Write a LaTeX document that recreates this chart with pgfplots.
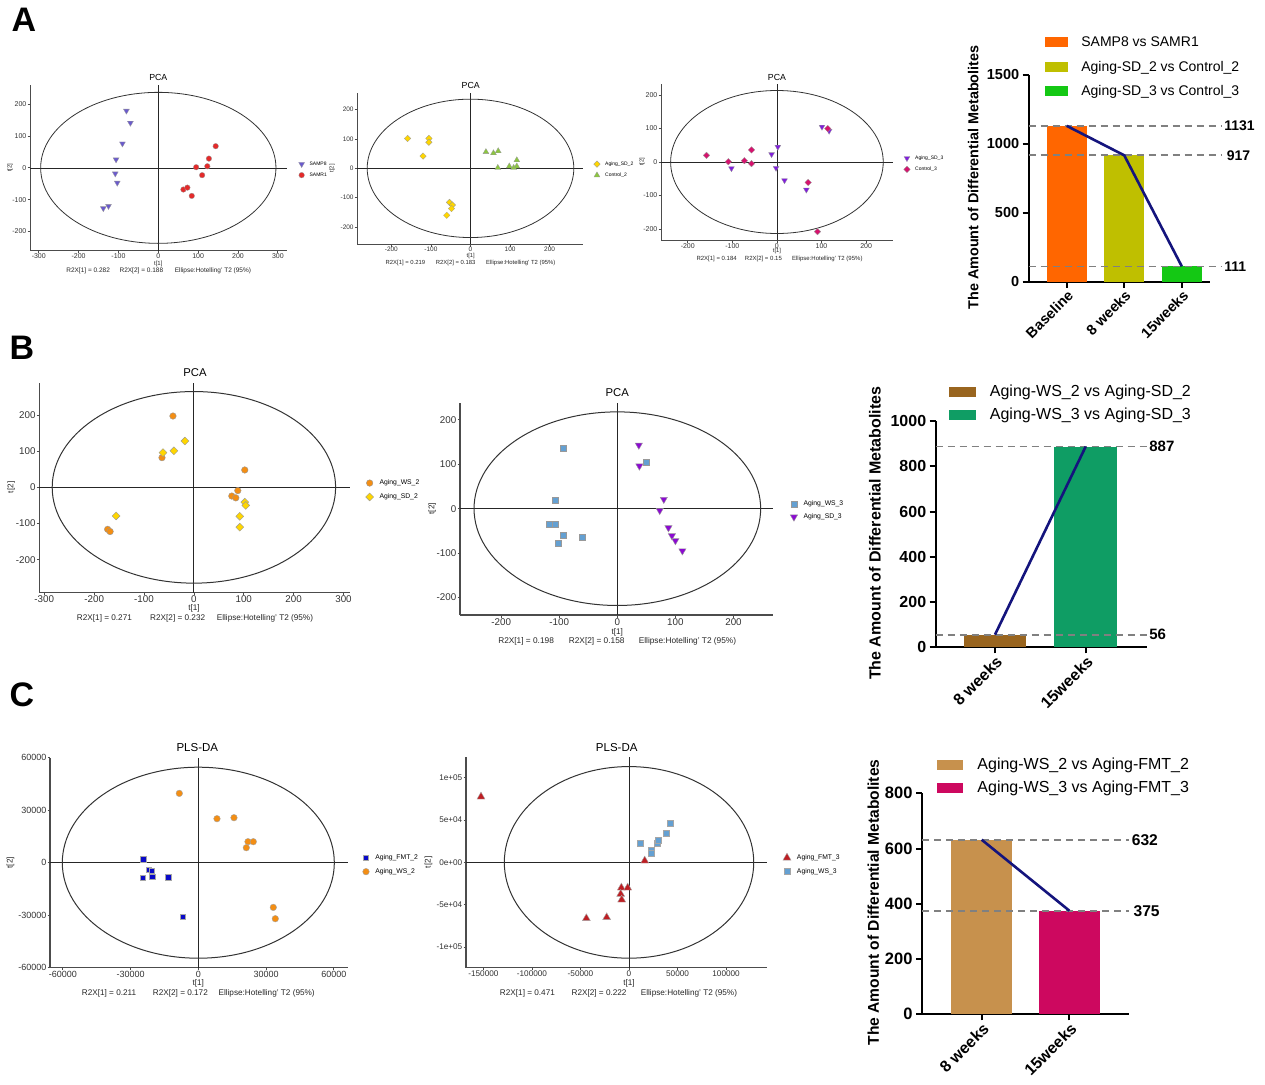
\documentclass[border=0pt]{standalone}
\usepackage{fontspec}
\setmainfont{Liberation Sans}
\usepackage{pgfplots}
\pgfplotsset{compat=1.18}
\newcommand{\fs}[1]{\fontsize{#1}{#1}\selectfont}
\definecolor{cSAMP8}{RGB}{106,90,205}
\definecolor{cSAMR1}{RGB}{228,42,42}
\definecolor{cYel}{RGB}{255,214,0}
\definecolor{cCtl2}{RGB}{140,198,63}
\definecolor{cViol}{RGB}{128,30,220}
\definecolor{cCtl3}{RGB}{214,18,110}
\definecolor{cOr}{RGB}{243,142,20}
\definecolor{cLB}{RGB}{100,160,210}
\definecolor{cPur}{RGB}{140,10,210}
\definecolor{cFMT2}{RGB}{10,10,200}
\definecolor{cFMT3}{RGB}{190,30,35}
\definecolor{cB1}{RGB}{255,102,0}
\definecolor{cB2}{RGB}{191,191,0}
\definecolor{cB3}{RGB}{20,200,20}
\definecolor{cB4}{RGB}{153,101,31}
\definecolor{cB5}{RGB}{15,157,100}
\definecolor{cB6}{RGB}{199,145,77}
\definecolor{cB7}{RGB}{205,8,95}
\definecolor{cNavy}{RGB}{20,20,125}
\tikzset{
  zl/.style={draw=black!85, line width=0.7pt},
  ell/.style={draw=black!80, line width=0.8pt},
  dl/.style={draw=black!50, line width=1.8pt, dash pattern=on 7pt off 5pt},
  vl/.style={anchor=west, inner sep=0pt, font=\bfseries\fs{15}},
}
\pgfplotsset{
  scat/.style={scale only axis, anchor=south west,
    axis x line*=bottom, axis y line*=left,
    axis line style={draw=black!70, line width=1pt},
    tick align=outside, major tick length=2.5pt,
    tick style={draw=black!70, line width=0.8pt},
    clip=false, scaled ticks=false,
    /pgf/number format/assume math mode=true,
    /pgf/number format/1000 sep={},
    xticklabel style={text=black!80, inner sep=0.6pt}, yticklabel style={text=black!80, inner sep=1pt},
    legend cell align=left,
    legend image code/.code={\draw[mark repeat=2,mark phase=2,##1] plot coordinates {(0pt,0pt) (3pt,0pt) (6pt,0pt)};},
    legend style={draw=none, fill=none, at={(1,0.5)}, anchor=west, inner sep=0pt, outer sep=0pt},
  },
  fontA/.style={ticklabel style={font=\fs{7}}, legend style={font=\fs{5}, row sep=2pt, column sep=3pt}},
  fontB/.style={ticklabel style={font=\fs{9.8}}, legend style={font=\fs{6.8}, row sep=3.5pt, column sep=4pt}},
  bars/.style={scale only axis, anchor=south west,
    axis x line*=bottom, axis y line*=left,
    axis line style={black, line width=2pt},
    tick align=outside, major tick length=6pt,
    tick style={black, line width=2pt},
    clip=false, ymin=0,
    /pgf/number format/assume math mode=true,
    /pgf/number format/1000 sep={},
    xticklabel style={rotate=45, anchor=north east, font=\bfseries\fs{15}, inner sep=1pt},
    yticklabel style={font=\bfseries\fs{15}},
    legend cell align=left,
    legend style={draw=none, fill=none, inner sep=0pt, outer sep=0pt, column sep=11pt, anchor=north west},
  },
}
\begin{document}
\begin{tikzpicture}
\useasboundingbox (0pt,0pt) rectangle (1265pt,-1084pt);

% ---------------- Panel letters
\node[font=\bfseries\fs{34}] at (24pt,-20pt) {A};
\node[font=\bfseries\fs{34}] at (22pt,-348pt) {B};
\node[font=\bfseries\fs{34}] at (22pt,-695pt) {C};

% ---------------- A1
\begin{axis}[scat, fontA, at={(30pt,-250.7pt)}, width=257pt, height=165.7pt,
  xmin=-322, xmax=323, ymin=-260, ymax=260,
  xtick={-300,-200,...,300}, ytick={-200,-100,...,200},
  legend style={xshift=11.7pt, yshift=-1.8pt}]
\draw[zl] ({rel axis cs:0,0}|-{axis cs:0,0}) -- ({rel axis cs:1,0}|-{axis cs:0,0});
\draw[zl] ({axis cs:0,0}|-{rel axis cs:0,0}) -- ({axis cs:0,0}|-{rel axis cs:0,1});
\draw[ell] (axis cs:0,0) ellipse [x radius=117.65pt, y radius=75.5pt];
\addplot[only marks, mark=triangle*, mark size=3.4pt, mark options={rotate=180, fill=cSAMP8, draw=black!40, line width=0.3pt}]
 coordinates {(-80,179) (-70,141) (-90,76) (-106,26) (-108,-18) (-103,-47) (-125,-120) (-138,-127)};
\addlegendentry{SAMP8}
\addplot[only marks, mark=*, mark size=2.8pt, mark options={fill=cSAMR1, draw=black!40, line width=0.3pt}]
 coordinates {(144,68) (127,29) (123,5) (95,2) (110,-23) (63,-68) (73,-62) (84,-88)};
\addlegendentry{SAMR1}
\end{axis}
\node[font=\fs{8.8}] at (158.3pt,-77pt) {PCA};
\node[font=\fs{6}, text=black!85] at (158.3pt,-263.5pt) {t[1]};
\node[font=\fs{6}, text=black!85, rotate=90] at (10pt,-167.7pt) {t[2]};
\node[font=\fs{6.5}, text=black!85] at (158.7pt,-271.2pt) {R2X[1] = 0.282\hspace{9.7pt}R2X[2] = 0.188\hspace{11.7pt}Ellipse:Hotelling' T2 (95\%)};

% ---------------- A2
\begin{axis}[scat, fontA, at={(357.3pt,-244pt)}, width=226pt, height=151.3pt,
  xmin=-286, xmax=285, ymin=-258, ymax=258,
  xtick={-200,-100,...,200}, ytick={-200,-100,...,200},
  ticklabel style={font=\fs{6.5}},
  legend style={xshift=10.4pt, yshift=-1.3pt}]
\draw[zl] ({rel axis cs:0,0}|-{axis cs:0,0}) -- ({rel axis cs:1,0}|-{axis cs:0,0});
\draw[zl] ({axis cs:0,0}|-{rel axis cs:0,0}) -- ({axis cs:0,0}|-{rel axis cs:0,1});
\draw[ell] (axis cs:0,0) ellipse [x radius=103.3pt, y radius=69.2pt];
\addplot[only marks, mark=square*, mark size=2.3pt, mark options={rotate=45, fill=cYel, draw=black!40, line width=0.3pt}]
 coordinates {(-159,102) (-105,102) (-105,89) (-120,42) (-53,-116) (-46,-125) (-48,-137) (-60,-160)};
\addlegendentry{Aging\_SD\_2}
\addplot[only marks, mark=triangle*, mark size=3.4pt, mark options={fill=cCtl2, draw=black!40, line width=0.3pt}]
 coordinates {(39,56) (58,52) (70,59) (69,2) (98,7) (109,2) (117,28) (117,7)};
\addlegendentry{Control\_2}
\end{axis}
\node[font=\fs{8.8}] at (470.7pt,-85pt) {PCA};
\node[font=\fs{5.8}, text=black!85] at (470.7pt,-256pt) {t[1]};
\node[font=\fs{5.8}, text=black!85, rotate=90] at (332.2pt,-168.3pt) {t[2]};
\node[font=\fs{5.9}, text=black!85] at (470.5pt,-263.2pt) {R2X[1] = 0.219\hspace{10.7pt}R2X[2] = 0.183\hspace{10.7pt}Ellipse:Hotelling' T2 (95\%)};

% ---------------- A3
\begin{axis}[scat, fontA, at={(661pt,-240pt)}, width=232.3pt, height=156pt,
  xmin=-260, xmax=261, ymin=-233, ymax=233,
  xtick={-200,-100,...,200}, ytick={-200,-100,...,200},
  legend style={xshift=10.4pt, yshift=-1.8pt}]
\draw[zl] ({rel axis cs:0,0}|-{axis cs:0,0}) -- ({rel axis cs:1,0}|-{axis cs:0,0});
\draw[zl] ({axis cs:0,0}|-{rel axis cs:0,0}) -- ({axis cs:0,0}|-{rel axis cs:0,1});
\draw[ell] (axis cs:0,0) ellipse [x radius=106.3pt, y radius=71.5pt];
\addplot[only marks, mark=triangle*, mark size=3.4pt, mark options={rotate=180, fill=cViol, draw=black!40, line width=0.3pt}]
 coordinates {(101,105) (117,93) (2,45) (-12,23) (-2,-18) (-102,-19) (17,-55) (66,-83)};
\addlegendentry{Aging\_SD\_3}
\addplot[only marks, mark=square*, mark size=2.3pt, mark options={rotate=45, fill=cCtl3, draw=black!40, line width=0.3pt}]
 coordinates {(114,100) (-158,20) (-109,1) (-73,4) (-57,36) (-57,-5) (70,-61) (91,-208)};
\addlegendentry{Control\_3}
\end{axis}
\node[font=\fs{8.8}] at (777pt,-77.7pt) {PCA};
\node[font=\fs{5.8}, text=black!85] at (777pt,-251pt) {t[1]};
\node[font=\fs{5.8}, text=black!85, rotate=90] at (642.2pt,-161.7pt) {t[2]};
\node[font=\fs{6}, text=black!85] at (779.5pt,-258.8pt) {R2X[1] = 0.184\hspace{8.3pt}R2X[2] = 0.15\hspace{10.3pt}Ellipse:Hotelling' T2 (95\%)};

% ---------------- A4 bars
\begin{axis}[bars, at={(1028.7pt,-281.7pt)}, width=181.3pt, height=206.7pt,
  xmin=-0.66, xmax=2.49, ymax=1500, ytick={0,500,1000,1500},
  xtick={0,1,2}, xticklabels={Baseline,8 weeks,15weeks},
  yticklabel style={font=\bfseries\fs{14.5}}, xticklabel style={font=\bfseries\fs{14.5}},
  legend style={at={(axis description cs:0.09,1.195)}, font=\fs{14}, row sep=9pt}]
\addplot[ybar, bar width=0.696, fill=cB1, draw=none, legend image code/.code={\fill[cB1] (0pt,-5pt) rectangle (23.3pt,5pt);}] coordinates {(0,1131)};
\addlegendentry{SAMP8 vs SAMR1}
\addplot[ybar, bar width=0.696, fill=cB2, draw=none, legend image code/.code={\fill[cB2] (0pt,-5pt) rectangle (23.3pt,5pt);}] coordinates {(1,917)};
\addlegendentry{Aging-SD\_2 vs Control\_2}
\addplot[ybar, bar width=0.696, fill=cB3, draw=none, legend image code/.code={\fill[cB3] (0pt,-5pt) rectangle (23.3pt,5pt);}] coordinates {(2,111)};
\addlegendentry{Aging-SD\_3 vs Control\_3}
\draw[dl] (axis cs:-0.66,1131) -- (axis cs:2.696,1131);
\draw[dl] (axis cs:-0.66,917) -- (axis cs:2.696,917);
\draw[dl] (axis cs:-0.66,111) -- (axis cs:2.696,111);
\node[vl, font=\bfseries\fs{14}] at (axis cs:2.736,1131) {1131};
\node[vl, font=\bfseries\fs{14}] at (axis cs:2.78,917) {917};
\node[vl, font=\bfseries\fs{14}] at (axis cs:2.736,111) {111};
\addplot[sharp plot, draw=cNavy, line width=2.6pt, forget plot] coordinates {(0,1131) (1,917) (2,111)};
\end{axis}
\node[font=\bfseries\fs{14.4}, rotate=90] at (973.3pt,-177.5pt) {The Amount of Differential Metabolites};

% ---------------- B1
\begin{axis}[scat, fontB, at={(39.3pt,-592.7pt)}, width=310.7pt, height=210pt,
  xmin=-310, xmax=313, ymin=-291, ymax=289,
  xtick={-300,-200,...,300}, ytick={-200,-100,...,200},
  axis line style={line width=1.3pt},
  legend style={xshift=15.7pt, yshift=-2.3pt}]
\draw[zl, line width=0.9pt] ({rel axis cs:0,0}|-{axis cs:0,0}) -- ({rel axis cs:1,0}|-{axis cs:0,0});
\draw[zl, line width=0.9pt] ({axis cs:0,0}|-{rel axis cs:0,0}) -- ({axis cs:0,0}|-{rel axis cs:0,1});
\draw[ell, line width=1pt] (axis cs:0,0) ellipse [x radius=141.7pt, y radius=95.8pt];
\addplot[only marks, mark=*, mark size=3.3pt, mark options={fill=cOr, draw=black!40, line width=0.4pt}]
 coordinates {(-42,197) (-64,82) (102,48) (88,-9) (76,-24) (84,-29) (-173,-116) (-168,-122)};
\addlegendentry{Aging\_WS\_2}
\addplot[only marks, mark=square*, mark size=2.8pt, mark options={rotate=45, fill=cYel, draw=black!40, line width=0.4pt}]
 coordinates {(-18,128) (-40,101) (-62,96) (-156,-79) (102,-41) (104,-50) (92,-80) (92,-110)};
\addlegendentry{Aging\_SD\_2}
\end{axis}
\node[font=\fs{11.3}] at (195pt,-372.7pt) {PCA};
\node[font=\fs{8.2}, text=black!85] at (194pt,-608.8pt) {t[1]};
\node[font=\fs{8.2}, text=black!85, rotate=90] at (11.2pt,-487.3pt) {t[2]};
\node[font=\fs{8.2}, text=black!85] at (195pt,-618.2pt) {R2X[1] = 0.271\hspace{18.3pt}R2X[2] = 0.232\hspace{11.7pt}Ellipse:Hotelling' T2 (95\%)};

% ---------------- B2
\begin{axis}[scat, fontB, at={(460pt,-615pt)}, width=313.3pt, height=212.3pt,
  xmin=-271, xmax=268.6, ymin=-239.4, ymax=238.6,
  xtick={-200,-100,...,200}, ytick={-200,-100,...,200},
  axis line style={line width=1.3pt},
  legend style={xshift=17pt, yshift=-1.7pt, row sep=2.5pt}]
\draw[zl, line width=0.9pt] ({rel axis cs:0,0}|-{axis cs:0,0}) -- ({rel axis cs:1,0}|-{axis cs:0,0});
\draw[zl, line width=0.9pt] ({axis cs:0,0}|-{rel axis cs:0,0}) -- ({axis cs:0,0}|-{rel axis cs:0,1});
\draw[ell, line width=1pt] (axis cs:0,0) ellipse [x radius=143.3pt, y radius=96.8pt];
\addplot[only marks, mark=square*, mark size=3pt, mark options={fill=cLB, draw=black!40, line width=0.4pt}]
 coordinates {(-94,137) (49,105) (-107,20) (-117,-36) (-107,-36) (-94,-59) (-102,-78) (-61,-65)};
\addlegendentry{Aging\_WS\_3}
\addplot[only marks, mark=triangle*, mark size=4.2pt, mark options={rotate=180, fill=cPur, draw=black!40, line width=0.4pt}]
 coordinates {(37,143) (38,96) (80,21) (73,-4) (88,-43) (94,-61) (100,-72) (112,-95)};
\addlegendentry{Aging\_SD\_3}
\end{axis}
\node[font=\fs{11.3}] at (617.3pt,-392.7pt) {PCA};
\node[font=\fs{8.2}, text=black!85] at (617.3pt,-632.2pt) {t[1]};
\node[font=\fs{8.2}, text=black!85, rotate=90] at (432.2pt,-508.7pt) {t[2]};
\node[font=\fs{8.3}, text=black!85] at (617.2pt,-641.2pt) {R2X[1] = 0.198\hspace{15pt}R2X[2] = 0.158\hspace{14.3pt}Ellipse:Hotelling' T2 (95\%)};

% ---------------- B3 bars
\begin{axis}[bars, at={(935.7pt,-647.3pt)}, width=211pt, height=226.3pt,
  xmin=-0.654, xmax=1.673, ymax=1000, ytick={0,200,...,1000},
  xtick={0,1}, xticklabels={8 weeks,15weeks},
  yticklabel style={font=\bfseries\fs{16}}, xticklabel style={font=\bfseries\fs{16}},
  legend style={at={(axis description cs:0.064,1.168)}, font=\fs{16}, row sep=6pt, column sep=12pt}]
\addplot[ybar, bar width=0.676, fill=cB4, draw=none, legend image code/.code={\fill[cB4] (0pt,-5pt) rectangle (26.7pt,5pt);}] coordinates {(0,56)};
\addlegendentry{Aging-WS\_2 vs Aging-SD\_2}
\addplot[ybar, bar width=0.69, fill=cB5, draw=none, legend image code/.code={\fill[cB5] (0pt,-5pt) rectangle (26.7pt,5pt);}] coordinates {(1,887)};
\addlegendentry{Aging-WS\_3 vs Aging-SD\_3}
\draw[dl] (axis cs:-0.654,887) -- (axis cs:1.673,887);
\draw[dl] (axis cs:-0.654,56) -- (axis cs:1.673,56);
\node[vl] at (axis cs:1.70,887) {887};
\node[vl] at (axis cs:1.70,56) {56};
\addplot[sharp plot, draw=cNavy, line width=2.6pt, forget plot] coordinates {(0,56) (1,887)};
\end{axis}
\node[font=\bfseries\fs{16}, rotate=90] at (875pt,-533.3pt) {The Amount of Differential Metabolites};

% ---------------- C1
\begin{axis}[scat, fontB, at={(50pt,-967.7pt)}, width=298.3pt, height=210pt,
  xmin=-65683, xmax=66420, ymin=-60000, ymax=60000,
  xtick={-60000,-30000,0,30000,60000}, ytick={-60000,-30000,0,30000,60000},
  xticklabels={-60000,-30000,0,30000,60000}, yticklabels={-60000,-30000,0,30000,60000},
  ticklabel style={font=\fs{9}},
  axis line style={line width=1.3pt},
  legend style={xshift=14.4pt, yshift=-2pt}]
\draw[zl, line width=0.9pt] ({rel axis cs:0,0}|-{axis cs:0,0}) -- ({rel axis cs:1,0}|-{axis cs:0,0});
\draw[zl, line width=0.9pt] ({axis cs:0,0}|-{rel axis cs:0,0}) -- ({axis cs:0,0}|-{rel axis cs:0,1});
\draw[ell, line width=1pt] (axis cs:0,0) ellipse [x radius=136pt, y radius=95.5pt];
\addplot[only marks, mark=square*, mark size=2.7pt, mark options={fill=cFMT2, draw=black!35, line width=0.4pt}]
 coordinates {(-24354,2095) (-21845,-4000) (-20517,-4571) (-20369,-8000) (-24649,-8571) (-13284,-8190) (-6790,-30857)};
\addlegendentry{Aging\_FMT\_2}
\addplot[only marks, mark=*, mark size=3.3pt, mark options={fill=cOr, draw=black!35, line width=0.4pt}]
 coordinates {(-8413,39619) (8266,25143) (15793,25714) (21993,12000) (24354,12000) (21255,8571) (33210,-25524) (34096,-32000)};
\addlegendentry{Aging\_WS\_2}
\end{axis}
\node[font=\fs{11.5}] at (197.3pt,-747.7pt) {PLS-DA};
\node[font=\fs{8.2}, text=black!85] at (198.3pt,-983.8pt) {t[1]};
\node[font=\fs{8.2}, text=black!85, rotate=90] at (10.5pt,-862.7pt) {t[2]};
\node[font=\fs{8.2}, text=black!85] at (198.3pt,-993.2pt) {R2X[1] = 0.211\hspace{16.7pt}R2X[2] = 0.172\hspace{10.7pt}Ellipse:Hotelling' T2 (95\%)};

% ---------------- C2
\begin{axis}[scat, fontB, at={(466pt,-967.7pt)}, width=300.7pt, height=211pt,
  xmin=-167926, xmax=141827, ymin=-124409, ymax=124803,
  xtick={-150000,-100000,-50000,0,50000,100000}, ytick={-100000,-50000,0,50000,100000},
  xticklabels={-150000,-100000,-50000,0,50000,100000}, yticklabels={-1e+05,-5e+04,0e+00,5e+04,1e+05},
  ticklabel style={font=\fs{8.2}},
  axis line style={line width=1.3pt},
  legend style={xshift=16.3pt, yshift=-2.5pt}]
\draw[zl, line width=0.9pt] ({rel axis cs:0,0}|-{axis cs:0,0}) -- ({rel axis cs:1,0}|-{axis cs:0,0});
\draw[zl, line width=0.9pt] ({axis cs:0,0}|-{rel axis cs:0,0}) -- ({axis cs:0,0}|-{rel axis cs:0,1});
\draw[ell, line width=1pt] (axis cs:0,0) ellipse [x radius=124.7pt, y radius=95.8pt];
\addplot[only marks, mark=triangle*, mark size=4.6pt, mark options={fill=cFMT3, draw=black!35, line width=0.4pt}]
 coordinates {(-152473,77559) (16140,1968) (-7898,-29921) (-1374,-29921) (-8585,-37402) (-7555,-44094) (-43956,-66142) (-23008,-64961)};
\addlegendentry{Aging\_FMT\_3}
\addplot[only marks, mark=square*, mark size=3pt, mark options={fill=cLB, draw=black!35, line width=0.4pt}]
 coordinates {(11332,22441) (23008,14567) (22665,10630) (29190,22441) (30563,26378) (38118,34252) (42582,46850)};
\addlegendentry{Aging\_WS\_3}
\end{axis}
\node[font=\fs{11.5}] at (616.7pt,-747.7pt) {PLS-DA};
\node[font=\fs{8.2}, text=black!85] at (629pt,-983.8pt) {t[1]};
\node[font=\fs{8.2}, text=black!85, rotate=90] at (428.5pt,-862.3pt) {t[2]};
\node[font=\fs{8.2}, text=black!85] at (618.5pt,-993.2pt) {R2X[1] = 0.471\hspace{16.7pt}R2X[2] = 0.222\hspace{14.3pt}Ellipse:Hotelling' T2 (95\%)};

% ---------------- C3 bars
\begin{axis}[bars, at={(922pt,-1014.3pt)}, width=207.3pt, height=221pt,
  xmin=-0.68, xmax=1.683, ymax=800, ytick={0,200,...,800},
  xtick={0,1}, xticklabels={8 weeks,15weeks},
  yticklabel style={font=\bfseries\fs{16.5}}, xticklabel style={font=\bfseries\fs{16}},
  legend style={at={(axis description cs:0.071,1.169)}, font=\fs{16}, row sep=6pt, column sep=12pt}]
\addplot[ybar, bar width=0.692, fill=cB6, draw=none, legend image code/.code={\fill[cB6] (0pt,-5pt) rectangle (26.7pt,5pt);}] coordinates {(0,632)};
\addlegendentry{Aging-WS\_2 vs Aging-FMT\_2}
\addplot[ybar, bar width=0.70, fill=cB7, draw=none, legend image code/.code={\fill[cB7] (0pt,-5pt) rectangle (26.7pt,5pt);}] coordinates {(1,375)};
\addlegendentry{Aging-WS\_3 vs Aging-FMT\_3}
\draw[dl] (axis cs:-0.68,632) -- (axis cs:1.683,632);
\draw[dl] (axis cs:-0.68,375) -- (axis cs:1.683,375);
\node[vl, font=\bfseries\fs{15.6}] at (axis cs:1.71,632) {632};
\node[vl, font=\bfseries\fs{15.6}] at (axis cs:1.73,375) {375};
\addplot[sharp plot, draw=cNavy, line width=2.6pt, forget plot] coordinates {(0,632) (1,375)};
\end{axis}
\node[font=\bfseries\fs{15.6}, rotate=90] at (873.3pt,-902.5pt) {The Amount of Differential Metabolites};

\end{tikzpicture}
\end{document}
